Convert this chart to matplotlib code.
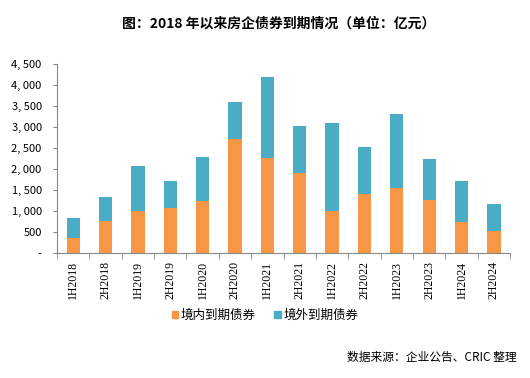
import numpy as np
import matplotlib.pyplot as plt
from matplotlib.patches import Patch
from matplotlib.ticker import FuncFormatter

plt.rcParams['font.family'] = ['Noto Sans CJK SC', 'DejaVu Sans']

# 数据（单位：亿元）
periods = ['1H2018', '2H2018', '1H2019', '2H2019', '1H2020', '2H2020', '1H2021',
           '2H2021', '1H2022', '2H2022', '1H2023', '2H2023', '1H2024', '2H2024']
domestic = [357, 759, 1002, 1073, 1246, 2704, 2263, 1908, 1002, 1404, 1553, 1270, 726, 530]
total = [837, 1333, 2066, 1711, 2279, 3603, 4193, 3012, 3090, 2515, 3296, 2232, 1711, 1168]
overseas = [t - d for t, d in zip(total, domestic)]

c_dom = '#F79646'
c_ovs = '#4BACC6'

fig = plt.figure(figsize=(5.3, 3.78), dpi=100)
ax = fig.add_axes([0.1075, 0.331, 0.855, 0.50])

x = np.arange(len(periods))
ax.bar(x, domestic, width=0.41, color=c_dom, zorder=2)
ax.bar(x, overseas, width=0.41, bottom=domestic, color=c_ovs, zorder=2)

ax.set_xlim(-0.5, len(periods) - 0.5)
ax.set_ylim(0, 4500)
ax.set_yticks(np.arange(0, 4501, 500))

def fmt(v, pos):
    if v == 0:
        return '-'
    s = f'{int(v):,}'
    return s.replace(',', ', ')

ax.yaxis.set_major_formatter(FuncFormatter(fmt))
ax.tick_params(axis='y', labelsize=8, length=3, color='#888888', pad=8)

# x 轴刻度在类别之间
ax.set_xticks(x)
ax.set_xticklabels(periods, rotation=90, fontsize=8.5, family=['Liberation Serif'])
ax.set_xticks(np.arange(-0.5, len(periods)), minor=True)
ax.tick_params(axis='x', which='major', length=0, pad=6)
ax.tick_params(axis='x', which='minor', length=4, color='#888888')

for s in ['top', 'right']:
    ax.spines[s].set_visible(False)
ax.spines['left'].set_color('#888888')
ax.spines['bottom'].set_color('#888888')

fig.text(0.525, 0.937, '图：2018 年以来房企债券到期情况（单位：亿元）',
         ha='center', va='center', fontsize=10, fontweight='bold')

handles = [Patch(color=c_dom, label='境内到期债券'), Patch(color=c_ovs, label='境外到期债券')]
fig.legend(handles=handles, loc='center', bbox_to_anchor=(0.5, 0.165), ncol=2, frameon=False,
           fontsize=9, handlelength=0.5, handleheight=0.5, handletextpad=0.2, columnspacing=1.5)

fig.text(0.975, 0.055, '数据来源：企业公告、CRIC 整理', ha='right', va='center', fontsize=8.5)

fig.savefig('out.png', dpi=100)
